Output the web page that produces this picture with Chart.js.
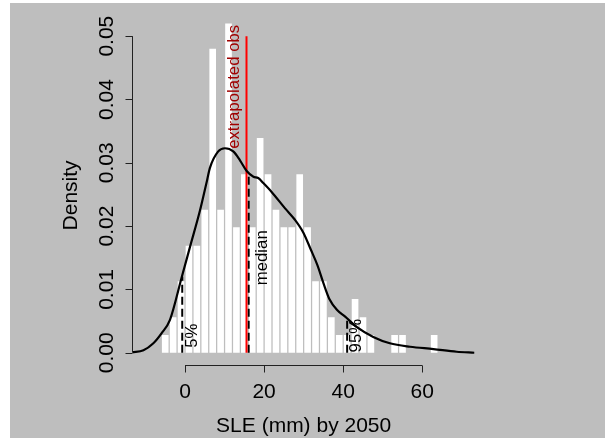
<!DOCTYPE html>
<html>
<head>
<meta charset="utf-8">
<title>SLE by 2050</title>
<script src="https://cdn.jsdelivr.net/npm/chart.js@4.4.0/dist/chart.umd.min.js"></script>
<style>
  html, body { margin: 0; padding: 0; background: #ffffff; }
  #wrap { width: 605px; height: 438px; }
</style>
</head>
<body>
<div id="wrap"><canvas id="hist" width="605" height="438"></canvas></div>
<script>
// histogram: 2 mm bins, centre of each bin and its density
const BIN_MIDS = [-5, -3, -1, 1, 3, 5, 7, 9, 11, 13, 15, 17, 19, 21, 23, 25, 27, 29,
                  31, 33, 35, 37, 39, 41, 43, 45, 47, 49, 51, 53, 55, 57, 59, 61, 63];
const BIN_DENSITY = [0.0028, 0.0056, 0.0113, 0.0169, 0.0169, 0.0226, 0.0480, 0.0226,
                     0.0537, 0.0198, 0.0282, 0.0198, 0.0339, 0.0282, 0.0226, 0.0198,
                     0.0198, 0.0282, 0.0198, 0.0113, 0.0113, 0.0056, 0.0028, 0.0028,
                     0.0085, 0.0056, 0.0028, 0, 0, 0.0028, 0.0028, 0, 0, 0, 0.0028];

// kernel density curve
const KDE_X = [-13.4, -10.5, -8.0, -5.9, -3.8, -0.8, 1.3, 3.8, 5.6, 6.3, 8.4, 10.1,
               12.2, 13.9, 15.6, 17.3, 18.5, 19.8, 21.9, 25.3, 27.8, 29.9, 31.8, 33.5,
               35.0, 36.5, 38.4, 40.5, 43.4, 47.6, 51.8, 56.9, 62.8, 68.7, 73.2];
const KDE_Y = [0.00006, 0.0004, 0.0015, 0.0031, 0.0052, 0.0120, 0.0168, 0.0225,
               0.0273, 0.0292, 0.0318, 0.0323, 0.0318, 0.0304, 0.0287, 0.0278, 0.0276,
               0.0268, 0.0254, 0.0228, 0.0210, 0.0190, 0.0163, 0.0138, 0.0110, 0.0085,
               0.0068, 0.0057, 0.0041, 0.0025, 0.0015, 0.00095, 0.00058, 0.00016, 0];

// quantile markers (dashed)
const QUANT_X = [-0.7, 16.1, 41.0];
const QUANT_TOP = [0.0120, 0.0284, 0.0052];
const QUANT_LABELS = ['5%', 'median', '95%'];
const QUANT_LABEL_Y = [0.0027, 0.015, 0.0027];

// extrapolated observation (red)
const OBS_X = 15.55;
const OBS_RANGE = [0, 0.05];
const OBS_LABEL = 'extrapolated obs';
const OBS_LABEL_Y = 0.042;

const X_TICKS = [0, 20, 40, 60];
const X_TICK_LABELS = ['0', '20', '40', '60'];
const Y_TICKS = [0, 0.01, 0.02, 0.03, 0.04, 0.05];
const Y_TICK_LABELS = ['0.00', '0.01', '0.02', '0.03', '0.04', '0.05'];
const X_TITLE = 'SLE (mm) by 2050';
const Y_TITLE = 'Density';

const BG = '#bebebe';
const AXIS_FONT = '21px "Liberation Sans", Arial, sans-serif';
const NOTE_FONT = '16.8px "Liberation Sans", Arial, sans-serif';
// baseline offset (px) of each rotated note from its marker line
const NOTE_OFFSET = [14.8, 18, 14];

function vertical(xv, y0, y1) {
    return [{ x: xv, y: y0 }, { x: xv, y: y1 }];
}

// grey panel with a thin white margin, like the R device
const backdrop = {
    id: 'backdrop',
    beforeDraw(chart) {
        const ctx = chart.ctx;
        ctx.save();
        ctx.fillStyle = '#ffffff';
        ctx.fillRect(0, 0, chart.width, chart.height);
        ctx.fillStyle = BG;
        ctx.fillRect(10, 3, chart.width - 10, chart.height - 3);
        ctx.restore();
    }
};

function rotatedText(ctx, text, bx, cy) {
    ctx.save();
    ctx.translate(bx, cy);
    ctx.rotate(-Math.PI / 2);
    ctx.fillText(text, 0, 0);
    ctx.restore();
}

// R style axes: line only between first and last tick, rotated y labels
const rAxes = {
    id: 'rAxes',
    afterDraw(chart) {
        const { ctx, chartArea: area, scales: { x, y } } = chart;
        ctx.save();
        ctx.strokeStyle = '#222222';
        ctx.lineWidth = 1;
        ctx.fillStyle = '#000000';
        ctx.font = AXIS_FONT;
        ctx.textAlign = 'center';
        ctx.textBaseline = 'alphabetic';

        const xb = Math.floor(area.bottom) + 0.5;
        ctx.beginPath();
        ctx.moveTo(x.getPixelForValue(X_TICKS[0]), xb);
        ctx.lineTo(x.getPixelForValue(X_TICKS[X_TICKS.length - 1]), xb);
        X_TICKS.forEach(v => {
            const px = Math.round(x.getPixelForValue(v)) + 0.5;
            ctx.moveTo(px, xb);
            ctx.lineTo(px, xb + 7);
        });
        const yl = Math.floor(area.left) + 0.5;
        ctx.moveTo(yl, y.getPixelForValue(Y_TICKS[0]));
        ctx.lineTo(yl, y.getPixelForValue(Y_TICKS[Y_TICKS.length - 1]));
        Y_TICKS.forEach(v => {
            const py = Math.round(y.getPixelForValue(v)) + 0.5;
            ctx.moveTo(yl, py);
            ctx.lineTo(yl - 7, py);
        });
        ctx.stroke();

        X_TICKS.forEach((v, i) => ctx.fillText(X_TICK_LABELS[i], x.getPixelForValue(v), area.bottom + 33));
        ctx.fillText(X_TITLE, (area.left + area.right) / 2, area.bottom + 67);

        Y_TICKS.forEach((v, i) => rotatedText(ctx, Y_TICK_LABELS[i], area.left - 20.3, y.getPixelForValue(v)));
        rotatedText(ctx, Y_TITLE, area.left - 55.8, (area.top + area.bottom) / 2 + 1);
        ctx.restore();
    }
};

const notes = {
    id: 'notes',
    afterDatasetsDraw(chart) {
        const { ctx, scales: { x, y } } = chart;
        ctx.save();
        ctx.font = NOTE_FONT;
        ctx.textAlign = 'center';
        ctx.textBaseline = 'alphabetic';
        ctx.fillStyle = '#000000';
        QUANT_LABELS.forEach((t, i) => {
            rotatedText(ctx, t, x.getPixelForValue(QUANT_X[i]) + NOTE_OFFSET[i], y.getPixelForValue(QUANT_LABEL_Y[i]));
        });
        ctx.fillStyle = '#a00000';
        rotatedText(ctx, OBS_LABEL, x.getPixelForValue(OBS_X) - 7.5, y.getPixelForValue(OBS_LABEL_Y));
        ctx.restore();
    }
};

const datasets = [
    {
        type: 'line',
        label: 'density',
        data: KDE_X.map((v, i) => ({ x: v, y: KDE_Y[i] })),
        borderColor: '#000000',
        borderWidth: 2.2,
        pointRadius: 0,
        cubicInterpolationMode: 'monotone',
        fill: false,
        order: 0
    },
    {
        type: 'line',
        label: 'extrapolated obs',
        data: vertical(OBS_X, OBS_RANGE[0], OBS_RANGE[1]),
        borderColor: '#ff0000',
        borderWidth: 2,
        pointRadius: 0,
        order: 0
    }
];

QUANT_X.forEach((v, i) => {
    datasets.push({
        type: 'line',
        label: QUANT_LABELS[i],
        data: vertical(v, 0, QUANT_TOP[i]),
        borderColor: '#000000',
        borderWidth: 2,
        borderDash: [8, 4],
        pointRadius: 0,
        order: 1
    });
});

datasets.push({
    type: 'bar',
    label: 'histogram',
    data: BIN_MIDS.map((m, i) => ({ x: m, y: BIN_DENSITY[i] })),
    backgroundColor: '#ffffff',
    borderWidth: 0,
    barPercentage: 0.84,
    categoryPercentage: 1,
    order: 2
});

new Chart(document.getElementById('hist'), {
    type: 'bar',
    data: { datasets: datasets },
    options: {
        responsive: false,
        animation: false,
        devicePixelRatio: 1,
        events: [],
        layout: { padding: { left: 132.8, right: 130.5, top: 23.5, bottom: 72.6 } },
        plugins: {
            legend: { display: false },
            tooltip: { enabled: false }
        },
        scales: {
            x: { type: 'linear', min: -13.2, max: 73.2, bounds: 'data', offset: false, display: false },
            y: { type: 'linear', min: -0.002, max: 0.052, display: false }
        }
    },
    plugins: [backdrop, rAxes, notes]
});
</script>
</body>
</html>
